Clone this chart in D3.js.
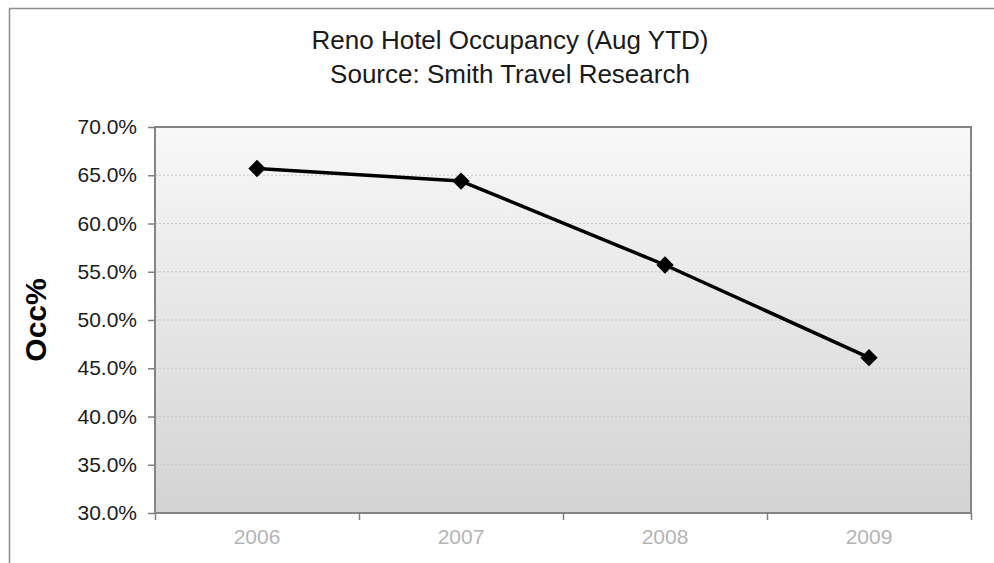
<!DOCTYPE html>
<html>
  <head>
    <meta charset="utf-8">
    <title>Reno Hotel Occupancy</title>
    <script src="https://d3js.org/d3.v7.min.js"></script>
    <style>
      body { margin: 0; background: #fff; font-family: "Liberation Sans", Arial, sans-serif; }
      svg { display: block; }
      .grid line { stroke: #c8c8c8; stroke-dasharray: 2 2; }
      .yAxis text { font-size: 21px; fill: #1a1a1a; }
      .xAxis text { font-size: 21px; fill: #b4b4b4; }
      .yAxis path, .xAxis path { display: none; }
      .yAxis line, .xTicks line { stroke: #808080; stroke-width: 1.5; }
      .xTicks path { display: none; }
    </style>
  </head>
  <body>
    <svg id="chart" width="994" height="563"></svg>
    <script>
      // chart data
      var years = ["2006", "2007", "2008", "2009"];
      var occupancy = [0.657, 0.644, 0.557, 0.461];
      var yTicks = [0.30, 0.35, 0.40, 0.45, 0.50, 0.55, 0.60, 0.65, 0.70];
      var titleLines = ["Reno Hotel Occupancy (Aug YTD)", "Source: Smith Travel Research"];

      var width = 994, height = 563;
      var margin = { top: 127, right: 23, bottom: 50, left: 155 };
      var chart = d3.select("#chart");

      var x = d3.scaleBand()
        .domain(years)
        .range([margin.left, width - margin.right])
        .padding(0);
      var xEdges = d3.scaleLinear()
        .domain([0, years.length])
        .range([margin.left, width - margin.right]);
      var y = d3.scaleLinear()
        .domain([0.30, 0.70])
        .range([height - margin.bottom, margin.top]);

      // outer frame
      chart.append("rect")
        .attr("x", 9.5).attr("y", 8.5)
        .attr("width", 1100).attr("height", 700)
        .attr("fill", "none")
        .attr("stroke", "#8c8c8c")
        .attr("stroke-width", 1.5);

      // plot background gradient
      var grad = chart.append("defs").append("linearGradient")
        .attr("id", "bg").attr("x1", 0).attr("y1", 0).attr("x2", 0).attr("y2", 1);
      grad.append("stop").attr("offset", "0%").attr("stop-color", "#f8f8f8");
      grad.append("stop").attr("offset", "100%").attr("stop-color", "#d3d3d3");

      chart.append("rect")
        .attr("x", margin.left).attr("y", margin.top)
        .attr("width", width - margin.left - margin.right)
        .attr("height", height - margin.top - margin.bottom)
        .attr("fill", "url(#bg)");

      // gridlines
      chart.append("g")
        .classed("grid", true)
        .selectAll("line")
          .data(yTicks.slice(1, -1))
        .enter().append("line")
          .attr("x1", margin.left).attr("x2", width - margin.right)
          .attr("y1", function(d) { return y(d); })
          .attr("y2", function(d) { return y(d); });

      // plot border
      chart.append("rect")
        .attr("x", margin.left).attr("y", margin.top)
        .attr("width", width - margin.left - margin.right)
        .attr("height", height - margin.top - margin.bottom)
        .attr("fill", "none")
        .attr("stroke", "#858585")
        .attr("stroke-width", 2);

      // axes
      chart.append("g")
        .classed("yAxis", true)
        .attr("transform", "translate(" + margin.left + ",0)")
        .call(d3.axisLeft(y).tickValues(yTicks).tickFormat(d3.format(".1%")).tickSize(7).tickPadding(11));

      chart.append("g")
        .classed("xTicks", true)
        .attr("transform", "translate(0," + (height - margin.bottom) + ")")
        .call(d3.axisBottom(xEdges).tickValues(d3.range(years.length + 1)).tickFormat("").tickSize(7));

      chart.append("g")
        .classed("xAxis", true)
        .attr("transform", "translate(0," + (height - margin.bottom) + ")")
        .call(d3.axisBottom(x).tickSize(0).tickPadding(16))
        .selectAll("text").attr("dy", "0.71em");

      // line and markers
      var points = years.map(function(d, i) { return { year: d, value: occupancy[i] }; });
      var line = d3.line()
        .x(function(d) { return x(d.year) + x.bandwidth() / 2; })
        .y(function(d) { return y(d.value); });

      chart.append("path")
        .datum(points)
        .attr("d", line)
        .attr("fill", "none")
        .attr("stroke", "#000")
        .attr("stroke-width", 3.5)
        .attr("stroke-linejoin", "round");

      chart.append("g")
        .selectAll("path")
          .data(points)
        .enter().append("path")
          .attr("d", d3.symbol(d3.symbolSquare).size(150))
          .attr("fill", "#000")
          .attr("transform", function(d) {
            return "translate(" + (x(d.year) + x.bandwidth() / 2) + "," + y(d.value) + ") rotate(45)";
          });

      // titles
      chart.append("g")
        .selectAll("text")
          .data(titleLines)
        .enter().append("text")
          .attr("x", 510)
          .attr("y", function(d, i) { return 49 + i * 34; })
          .attr("text-anchor", "middle")
          .attr("font-size", "26px")
          .attr("fill", "#1a1a1a")
          .text(function(d) { return d; });

      chart.append("text")
        .attr("transform", "translate(46,320) rotate(-90)")
        .attr("text-anchor", "middle")
        .attr("font-size", "30px")
        .attr("font-weight", "bold")
        .attr("fill", "#000")
        .text("Occ%");
    </script>
  </body>
</html>
